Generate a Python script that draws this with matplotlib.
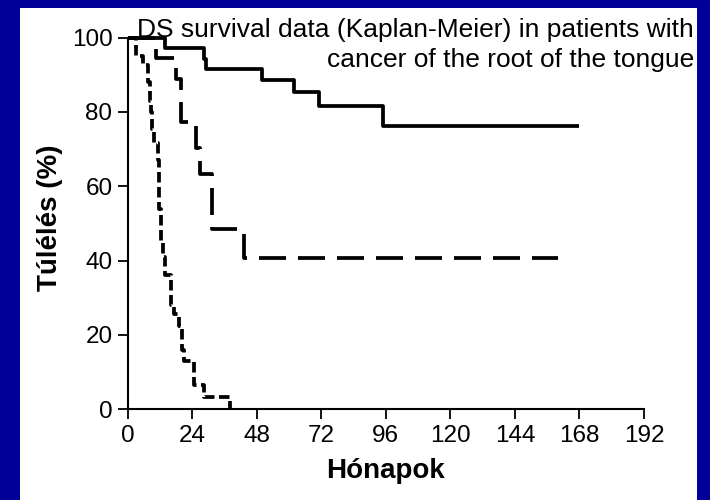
import matplotlib
matplotlib.use("Agg")
import matplotlib.pyplot as plt
from matplotlib.patches import Rectangle

plt.rcParams['font.family'] = ['Liberation Sans', 'DejaVu Sans']

# Data (months, survival %)
solid_t = [0, 14, 28.3, 29.2, 50, 62, 71, 95, 168]
solid_v = [100, 97.1, 94.3, 91.4, 88.6, 85.3, 81.5, 76.3, 76.3]

longdash_t = [0, 10.6, 18.0, 19.8, 25.3, 26.8, 31.2, 43.2, 160]
longdash_v = [100, 94.4, 88.9, 77.4, 70.4, 63.2, 48.6, 40.8, 40.8]

shortdash_t = [0, 3, 5.8, 7.5, 8.3, 8.8, 9.2, 9.6, 11.2, 11.7, 12.3, 13.3, 14.0,
               16.0, 17.2, 19.0, 20.2, 20.8, 24.8, 28.5, 38]
shortdash_v = [100, 95, 92.5, 88, 83, 80, 75.5, 71.5, 67, 54, 45, 41, 36,
               28, 25.5, 22.5, 16, 12.9, 6.5, 3.2, 0]

x_ticks = [0, 24, 48, 72, 96, 120, 144, 168, 192]
y_ticks = [0, 20, 40, 60, 80, 100]

title_lines = ["DS survival data (Kaplan-Meier) in patients with",
               "cancer of the root of the tongue"]
x_label = "Hónapok"
y_label = "Túlélés (%)"

W, H = 710, 500
fig = plt.figure(figsize=(W / 100, H / 100), dpi=100)
fig.patch.set_facecolor('#000099')
fig.patches.append(Rectangle((20 / W, 0), (697 - 20) / W, (H - 8) / H,
                             transform=fig.transFigure, facecolor='white',
                             edgecolor='none', zorder=-10))

ax = fig.add_axes([127.7 / W, (H - 409.3) / H, (644 - 127.7) / W, (409.3 - 37.5) / H])
ax.set_zorder(5)
ax.set_facecolor('none')
lw = 2.7
ax.step(solid_t, solid_v, where='post', color='black', lw=lw, clip_on=False,
        solid_capstyle='butt')
ax.step(longdash_t, longdash_v, where='post', color='black', lw=lw, clip_on=False,
        linestyle=(0, (7.2, 3.2)))
ax.step(shortdash_t, shortdash_v, where='post', color='black', lw=lw, clip_on=False,
        linestyle=(0, (2.8, 1.2)))

ax.set_xlim(0, 192)
ax.set_ylim(0, 100)
ax.set_xticks(x_ticks)
ax.set_yticks(y_ticks)
for s in ['top', 'right']:
    ax.spines[s].set_visible(False)
for s in ['left', 'bottom']:
    ax.spines[s].set_linewidth(1.5)
ax.tick_params(axis='both', direction='out', length=7.5, width=1.3,
               labelsize=17.5, colors='black')
ax.tick_params(axis='x', pad=4)
ax.tick_params(axis='y', pad=3.5)

fig.text(694 / W, 1 - 37 / H, title_lines[0], ha='right', va='baseline', fontsize=19,
         zorder=10)
fig.text(694 / W, 1 - 67 / H, title_lines[1], ha='right', va='baseline', fontsize=19,
         zorder=10)

fig.text(50 / W, 1 - 218 / H, y_label, rotation=90, ha='center', va='center',
         fontsize=20, fontweight='bold')
fig.text(385 / W, 1 - 471 / H, x_label, ha='center', va='center',
         fontsize=20, fontweight='bold')

fig.savefig('out.png', dpi=100, facecolor=fig.get_facecolor())
